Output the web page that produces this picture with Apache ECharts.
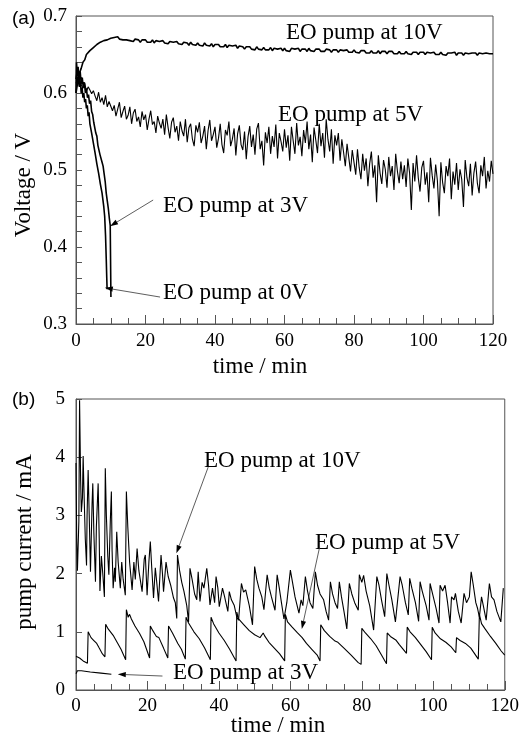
<!DOCTYPE html>
<html><head><meta charset="utf-8">
<script src="https://cdn.jsdelivr.net/npm/echarts@6/dist/echarts.min.js"></script>
<style>html,body{margin:0;padding:0;background:#fff}#c{width:522px;height:742px}</style>
</head><body><div id="c"></div>
<script>
// ---------- Panel (a): cell voltage (V) vs time (min) ----------
const T_STEP_A = 0.5; // sampling interval of the traced 10V / 5V curves (min)
const volt10V = [
0.600,0.614,0.626,0.632,0.640,0.643,0.650,0.649,0.655,0.654,
0.659,0.658,0.663,0.661,0.666,0.664,0.668,0.666,0.669,0.668,
0.671,0.669,0.672,0.670,0.673,0.670,0.672,0.669,0.671,0.669,
0.671,0.668,0.670,0.667,0.670,0.668,0.669,0.666,0.669,0.667,
0.669,0.666,0.668,0.666,0.669,0.665,0.668,0.666,0.667,0.665,
0.668,0.665,0.667,0.664,0.667,0.665,0.666,0.664,0.667,0.664,
0.666,0.663,0.666,0.664,0.665,0.662,0.666,0.663,0.665,0.662,
0.665,0.662,0.664,0.661,0.665,0.662,0.663,0.661,0.664,0.660,
0.663,0.661,0.663,0.660,0.662,0.660,0.663,0.659,0.662,0.660,
0.661,0.659,0.662,0.658,0.661,0.659,0.660,0.657,0.660,0.658,
0.660,0.657,0.659,0.656,0.660,0.657,0.658,0.656,0.659,0.656,
0.658,0.656,0.659,0.655,0.658,0.656,0.657,0.655,0.658,0.655,
0.658,0.655,0.657,0.654,0.658,0.656,0.657,0.655,0.658,0.654,
0.657,0.655,0.657,0.654,0.658,0.655,0.656,0.654,0.657,0.655,
0.657,0.654,0.656,0.654,0.657,0.655,0.656,0.653,0.656,0.654,
0.656,0.653,0.656,0.654,0.655,0.653,0.656,0.653,0.655,0.653,
0.656,0.653,0.655,0.652,0.655,0.653,0.655,0.652,0.654,0.652,
0.655,0.652,0.654,0.652,0.655,0.651,0.654,0.652,0.654,0.651,
0.654,0.652,0.654,0.651,0.653,0.651,0.654,0.651,0.653,0.651,
0.654,0.651,0.653,0.650,0.653,0.651,0.653,0.650,0.653,0.651,
0.653,0.650,0.653,0.651,0.652,0.650,0.653,0.650,0.652,0.650,
0.653,0.650,0.652,0.649,0.652,0.650,0.652,0.650,0.653,0.649,
0.652,0.650,0.652,0.649,0.652,0.650,0.651,0.649,0.652,0.650,
0.652,0.649,0.652,0.650,0.651,0.649,0.652,0.650,0.651,0.650,
0.651];
const volt5V = [
0.614,0.609,0.618,0.611,0.606,0.613,0.602,0.608,0.604,0.599,
0.603,0.596,0.590,0.601,0.588,0.594,0.585,0.597,0.582,0.589,
0.591,0.577,0.584,0.570,0.579,0.588,0.568,0.576,0.583,0.566,
0.571,0.582,0.560,0.574,0.579,0.563,0.569,0.556,0.576,0.565,
0.572,0.552,0.566,0.577,0.559,0.563,0.548,0.570,0.561,0.554,
0.566,0.546,0.572,0.555,0.541,0.562,0.568,0.549,0.557,0.538,
0.563,0.551,0.544,0.566,0.536,0.555,0.560,0.540,0.531,0.558,
0.549,0.562,0.535,0.544,0.557,0.527,0.551,0.565,0.538,0.546,
0.556,0.529,0.541,0.560,0.533,0.522,0.552,0.545,0.563,0.531,
0.540,0.554,0.519,0.547,0.558,0.533,0.526,0.550,0.514,0.543,
0.557,0.530,0.546,0.520,0.553,0.561,0.527,0.538,0.506,0.549,
0.535,0.556,0.521,0.544,0.530,0.559,0.515,0.548,0.537,0.524,
0.553,0.529,0.545,0.512,0.556,0.538,0.521,0.561,0.532,0.543,
0.518,0.552,0.535,0.563,0.527,0.546,0.510,0.555,0.539,0.522,
0.560,0.531,0.548,0.516,0.566,0.540,0.524,0.553,0.508,0.545,
0.532,0.548,0.512,0.540,0.523,0.505,0.534,0.516,0.498,0.526,
0.510,0.494,0.527,0.503,0.488,0.521,0.499,0.515,0.479,0.508,
0.524,0.490,0.506,0.458,0.519,0.496,0.482,0.513,0.501,0.477,
0.517,0.492,0.505,0.474,0.521,0.498,0.483,0.511,0.488,0.506,
0.478,0.515,0.496,0.448,0.509,0.485,0.519,0.490,0.472,0.503,
0.512,0.481,0.497,0.458,0.516,0.493,0.476,0.507,0.486,0.440,
0.510,0.484,0.470,0.505,0.492,0.515,0.462,0.498,0.481,0.509,
0.474,0.501,0.488,0.452,0.513,0.490,0.479,0.508,0.467,0.496,
0.511,0.483,0.470,0.506,0.492,0.517,0.476,0.499,0.485,0.512,
0.495];
const volt3V = [[0,0.600],[0.15,0.640],[0.4,0.622],[0.6,0.634],[0.9,0.618],[1.2,0.628],[1.5,0.612],[1.8,0.620],[2.1,0.607],[2.4,0.614],[2.7,0.600],[3.0,0.606],[3.3,0.594],[3.6,0.598],[3.9,0.586],[4.2,0.590],[4.5,0.576],[4.8,0.572],[5.1,0.562],[5.4,0.560],[5.7,0.548],[6.0,0.544],[6.3,0.532],[6.6,0.530],[6.9,0.520],[7.2,0.518],[7.5,0.510],[7.8,0.505],[8.1,0.495],[8.4,0.485],[8.7,0.470],[9.0,0.460],[9.3,0.450],[9.6,0.437],[9.85,0.428],[10.0,0.430],[10.05,0.335]];
const volt0V = [[0,0.618],[0.25,0.625],[0.5,0.612],[0.75,0.620],[1,0.608],[1.25,0.615],[1.5,0.600],[1.75,0.607],[2,0.594],[2.25,0.600],[2.5,0.588],[2.75,0.592],[3,0.580],[3.25,0.584],[3.5,0.570],[3.75,0.575],[4,0.560],[4.25,0.562],[4.5,0.548],[4.75,0.550],[5,0.535],[5.25,0.537],[5.5,0.522],[5.75,0.524],[6,0.508],[6.25,0.510],[6.5,0.496],[6.75,0.497],[7,0.482],[7.25,0.484],[7.5,0.470],[7.75,0.468],[8,0.452],[8.25,0.440],[8.5,0.415],[8.7,0.385],[8.85,0.360],[8.95,0.345]];

// ---------- Panel (b): pump current (mA) vs time (min) ----------
const cur10V = [[0,3.9],[0.2,2.6],[0.4,2.05],[0.8,2.9],[1.0,4.98],[1.3,3.6],[1.5,3.06],[1.8,3.3],[2.0,4.02],[2.2,3.5],[2.6,2.6],[2.95,2.14],[3.1,3.0],[3.4,3.78],[3.7,3.0],[4.05,2.03],[4.5,3.2],[4.7,3.55],[5.0,2.7],[5.45,1.86],[5.7,2.8],[6.2,3.55],[6.5,2.6],[6.7,1.7],[7.1,2.3],[7.5,2.0],[7.95,1.6],[8.2,3.81],[8.5,3.0],[8.9,2.3],[9.2,1.98],[9.6,2.9],[9.9,3.41],[10.1,2.4],[10.4,1.75],[10.8,2.1],[11.0,1.86],[11.4,2.72],[11.8,2.2],[12.4,1.75],[12.8,2.2],[13.2,1.9],[13.8,1.63],[14.1,3.41],[14.5,2.8],[15.0,2.2],[15.7,1.72],[16.2,2.2],[16.6,1.9],[17.1,2.43],[17.6,2.05],[18.5,1.69],[19.1,2.25],[19.4,2.32],[19.9,1.63],[20.4,2.2],[20.8,2.55],[21.2,2.1],[21.7,1.58],[22.2,2.1],[22.6,1.85],[23.1,1.52],[23.8,2.32],[24.2,2.0],[24.5,1.69],[25.2,2.2],[25.8,1.95],[26.5,1.8],[27.3,1.58],[27.8,1.5],[28.2,1.23],[28.4,2.32],[29.0,2.05],[29.6,1.85],[30.2,1.7],[31.0,1.45],[31.5,1.17],[31.9,2.09],[32.5,1.9],[33.2,1.65],[33.8,1.55],[34.2,2.03],[34.7,1.52],[35.3,1.85],[35.8,1.75],[36.6,2.09],[37.1,1.8],[37.5,1.46],[38.2,1.75],[38.8,1.5],[39.2,1.95],[39.7,1.75],[40.1,1.43],[41.0,1.75],[41.6,1.6],[42.5,1.35],[42.9,1.69],[43.5,1.55],[44.3,1.45],[45.0,1.25],[45.5,1.2],[46.3,1.83],[46.9,1.68],[47.5,1.72],[48.5,1.45],[49.4,1.12],[50.0,2.12],[50.6,1.9],[51.2,1.75],[52.0,1.6],[52.6,1.38],[53.5,1.98],[54.1,1.75],[54.7,1.6],[55.7,1.37],[56.3,1.98],[56.9,1.75],[57.5,1.5],[58.2,1.22],[59.0,1.5],[60.0,2.06],[60.6,1.85],[61.3,1.6],[62.4,1.32],[63.0,1.55],[63.5,1.45],[64.2,1.95],[64.8,1.7],[65.5,1.5],[66.3,1.4],[67.0,2.03],[67.6,1.8],[68.3,1.65],[69.3,1.55],[70.0,1.35],[70.7,1.2],[71.2,1.86],[71.8,1.65],[72.5,1.5],[73.2,1.4],[73.7,1.86],[74.3,1.6],[75.0,1.35],[75.8,1.05],[76.5,1.83],[77.2,1.65],[78.0,1.5],[79.0,1.37],[79.3,1.98],[80.0,1.85],[80.5,1.97],[81.2,1.7],[82.2,1.45],[83.3,1.03],[84.2,1.95],[84.8,1.8],[85.5,1.55],[86.4,1.26],[87.0,2.0],[87.6,1.8],[88.4,1.55],[89.4,1.17],[90.7,1.95],[91.3,1.8],[92.2,1.5],[93.0,1.29],[93.4,1.92],[94.0,1.75],[95.0,1.5],[95.9,1.18],[96.3,1.86],[96.9,1.7],[98.0,1.45],[98.8,1.2],[99.1,1.83],[99.8,1.65],[100.8,1.4],[101.6,1.15],[101.9,1.8],[102.6,1.7],[103.3,1.8],[104.0,1.5],[104.7,1.15],[105.1,1.6],[105.8,1.55],[106.2,1.66],[107.0,1.35],[107.8,1.15],[108.6,1.66],[109.3,1.5],[110.1,1.6],[110.6,2.03],[111.2,1.8],[111.9,1.5],[112.4,1.4],[112.9,1.25],[113.5,1.6],[114.0,1.45],[114.8,1.2],[115.7,1.83],[116.3,1.6],[117.0,1.55],[117.8,1.35],[118.9,1.17],[119.4,1.2],[119.6,1.75]];
const cur5V = [[0,0.58],[1,0.55],[2,0.5],[3.2,0.46],[3.4,1.0],[4.2,0.9],[5.0,0.85],[5.8,0.8],[6.5,0.72],[7.4,0.62],[8.1,0.57],[8.3,1.13],[9.0,1.05],[10.4,0.94],[11.5,0.82],[12.6,0.7],[13.9,0.52],[14.1,1.38],[14.6,1.25],[15.0,1.3],[15.5,1.22],[16.5,1.1],[17.8,0.97],[19.0,0.83],[20.6,0.55],[20.8,1.1],[21.5,1.02],[22.5,0.92],[23.2,0.9],[24.5,0.72],[25.7,0.55],[25.9,1.1],[27.0,0.98],[28.5,0.8],[29.5,0.7],[30.6,0.53],[30.8,1.25],[31.5,1.15],[33.0,1.0],[34.5,0.88],[36.0,0.72],[37.6,0.52],[37.8,1.25],[38.5,1.14],[40.0,0.98],[41.5,0.85],[43.0,0.7],[44.8,0.5],[45.0,1.34],[45.5,1.22],[47.0,1.12],[48.5,1.02],[50.0,0.95],[51.5,0.9],[52.4,0.98],[52.8,0.93],[54.0,0.82],[55.5,0.72],[57.0,0.62],[58.4,0.5],[58.6,1.3],[59.2,1.17],[60.5,1.08],[62.0,0.98],[63.3,0.9],[64.5,0.8],[66.0,0.7],[67.5,0.6],[68.3,0.5],[68.5,1.12],[69.5,1.02],[71.0,0.92],[72.5,0.84],[73.0,0.86],[73.3,0.82],[75.0,0.72],[77.0,0.6],[79.0,0.47],[79.8,0.44],[80.0,1.06],[81.0,0.98],[82.5,0.88],[84.0,0.76],[85.5,0.6],[86.9,0.45],[87.1,0.98],[88.0,0.92],[89.5,0.86],[90.5,0.78],[92.5,0.63],[92.7,1.08],[93.5,1.0],[95.0,0.9],[96.5,0.78],[98.0,0.66],[99.5,0.52],[99.7,1.08],[100.5,0.98],[102.0,0.88],[103.5,0.82],[105.0,0.74],[106.3,0.64],[106.5,0.9],[107.5,0.85],[109.0,0.8],[110.5,0.72],[112.6,0.53],[112.9,1.3],[113.5,1.14],[114.5,1.05],[116.0,0.92],[117.5,0.8],[119.0,0.67],[120,0.6]];
const cur3V = [[0,0.28],[0.4,0.33],[1.5,0.33],[4,0.31],[7,0.29],[9.9,0.27]];

// ticks / labels
const xTicks = {min:0, max:120, interval:20};
const yTicksA = {min:0.3, max:0.7, interval:0.1};
const yTicksB = {min:0, max:5, interval:1};
const labels = {
  panelA:'(a)', panelB:'(b)', yA:'Voltage / V', yB:'pump current / mA', x:'time / min',
  s10:'EO pump at 10V', s5:'EO pump at 5V', s3:'EO pump at 3V', s0:'EO pump at 0V'
};

const SERIF = 'Liberation Serif';
const AX = '#555';
function xAxisCfg(grid){
  return {type:'value', gridIndex:grid, min:xTicks.min, max:xTicks.max, interval:xTicks.interval,
    axisLine:{show:true, lineStyle:{color:AX, width:1}},
    axisTick:{show:true, inside:true, length:9, lineStyle:{color:AX}},
    minorTick:{show:true, splitNumber:4, length:6, lineStyle:{color:AX}},
    splitLine:{show:false}, minorSplitLine:{show:false},
    axisLabel:{fontFamily:SERIF, fontSize:19, color:'#000', margin:grid===0?8:7}};
}
function yAxisCfg(grid, t, minor, fmt, margin){
  return {type:'value', gridIndex:grid, min:t.min, max:t.max, interval:t.interval,
    axisLine:{show:true, lineStyle:{color:AX, width:1}},
    axisTick:{show:true, inside:true, length:6, lineStyle:{color:AX}},
    minorTick:{show:minor, splitNumber:5, length:6, lineStyle:{color:AX}},
    splitLine:{show:false}, minorSplitLine:{show:false},
    axisLabel:{fontFamily:SERIF, fontSize:19, color:'#000', margin:margin, formatter:fmt}};
}
function line(data, xi, yi, w){
  return {type:'line', xAxisIndex:xi, yAxisIndex:yi, data:data, showSymbol:false, symbol:'none',
    lineStyle:{color:'#000', width:w}, silent:true, animation:false, clip:true};
}

const chart = echarts.init(document.getElementById('c'), null, {renderer:'canvas'});
chart.setOption({
  animation:false,
  backgroundColor:'#fff',
  grid:[
    {left:76, top:16, width:417, height:308, show:true, borderColor:AX, borderWidth:1, backgroundColor:'transparent'},
    {left:76, top:399, width:431, height:291, show:true, borderColor:AX, borderWidth:1, backgroundColor:'transparent'}
  ],
  xAxis:[xAxisCfg(0), xAxisCfg(1)],
  yAxis:[
    yAxisCfg(0, yTicksA, true, v=>v.toFixed(1), 9),
    yAxisCfg(1, yTicksB, false, v=>String(Math.round(v)), 11)
  ],
  series:[
    line(volt10V.map((v,i)=>[i*T_STEP_A, v]), 0, 0, 1.6),
    line(volt5V.map((v,i)=>[i*T_STEP_A, v]), 0, 0, 1.1),
    line(volt3V, 0, 0, 1.6),
    line(volt0V, 0, 0, 1.6),
    line(cur10V, 1, 1, 1.1),
    line(cur5V, 1, 1, 1.1),
    line(cur3V, 1, 1, 1.1)
  ]
});

// annotations (data-space anchors converted to pixels)
function P(grid, pt){ return chart.convertToPixel({gridIndex:grid}, pt); }
function arrow(grid, tail, head){
  const a = P(grid, tail), b = P(grid, head);
  const dx = b[0]-a[0], dy = b[1]-a[1], L = Math.hypot(dx,dy), ux = dx/L, uy = dy/L;
  const hl = 8, hw = 2.6;
  const bx = b[0]-ux*hl, by = b[1]-uy*hl;
  return [
    {type:'line', shape:{x1:a[0], y1:a[1], x2:bx, y2:by}, style:{stroke:'#333', lineWidth:0.8}, silent:true},
    {type:'polygon', shape:{points:[[b[0],b[1]],[bx-uy*hw, by+ux*hw],[bx+uy*hw, by-ux*hw]]}, style:{fill:'#000'}, silent:true}
  ];
}
function txt(x, y, s){
  return {type:'text', x:x, y:y, silent:true,
    style:{text:s, font:'23px "Liberation Serif"', fill:'#000', align:'left', verticalAlign:'middle'}};
}
const g = [];
g.push({type:'text', x:12, y:19, silent:true, style:{text:labels.panelA, font:'19px "Liberation Sans"', fill:'#000', align:'left', verticalAlign:'middle'}});
g.push({type:'text', x:12, y:400, silent:true, style:{text:labels.panelB, font:'19px "Liberation Sans"', fill:'#000', align:'left', verticalAlign:'middle'}});
g.push({type:'text', x:24, y:185, rotation:Math.PI/2, silent:true, style:{text:labels.yA, font:'23px "Liberation Serif"', fill:'#000', align:'center', verticalAlign:'middle'}});
g.push({type:'text', x:25, y:542, rotation:Math.PI/2, silent:true, style:{text:labels.yB, font:'23px "Liberation Serif"', fill:'#000', align:'center', verticalAlign:'middle'}});
g.push({type:'text', x:260, y:367, silent:true, style:{text:labels.x, font:'23px "Liberation Serif"', fill:'#000', align:'center', verticalAlign:'middle'}});
g.push({type:'text', x:278, y:726, silent:true, style:{text:labels.x, font:'23px "Liberation Serif"', fill:'#000', align:'center', verticalAlign:'middle'}});
g.push(txt(286, 33, labels.s10));
g.push(txt(278, 115, labels.s5));
g.push(txt(163, 206, labels.s3));
g.push(txt(163, 293, labels.s0));
g.push(txt(204, 461, labels.s10));
g.push(txt(315, 543, labels.s5));
g.push(txt(173, 673, labels.s3));
g.push(...arrow(0, [22.2, 0.461], [9.8, 0.427]));
g.push(...arrow(0, [24.2, 0.335], [8.3, 0.347]));
g.push(...arrow(1, [37.0, 3.83], [28.1, 2.35]));
g.push(...arrow(1, [68.2, 2.46], [63.2, 1.05]));
g.push(...arrow(1, [24.2, 0.24], [11.7, 0.27]));
chart.setOption({graphic:g});
</script>
</body></html>
